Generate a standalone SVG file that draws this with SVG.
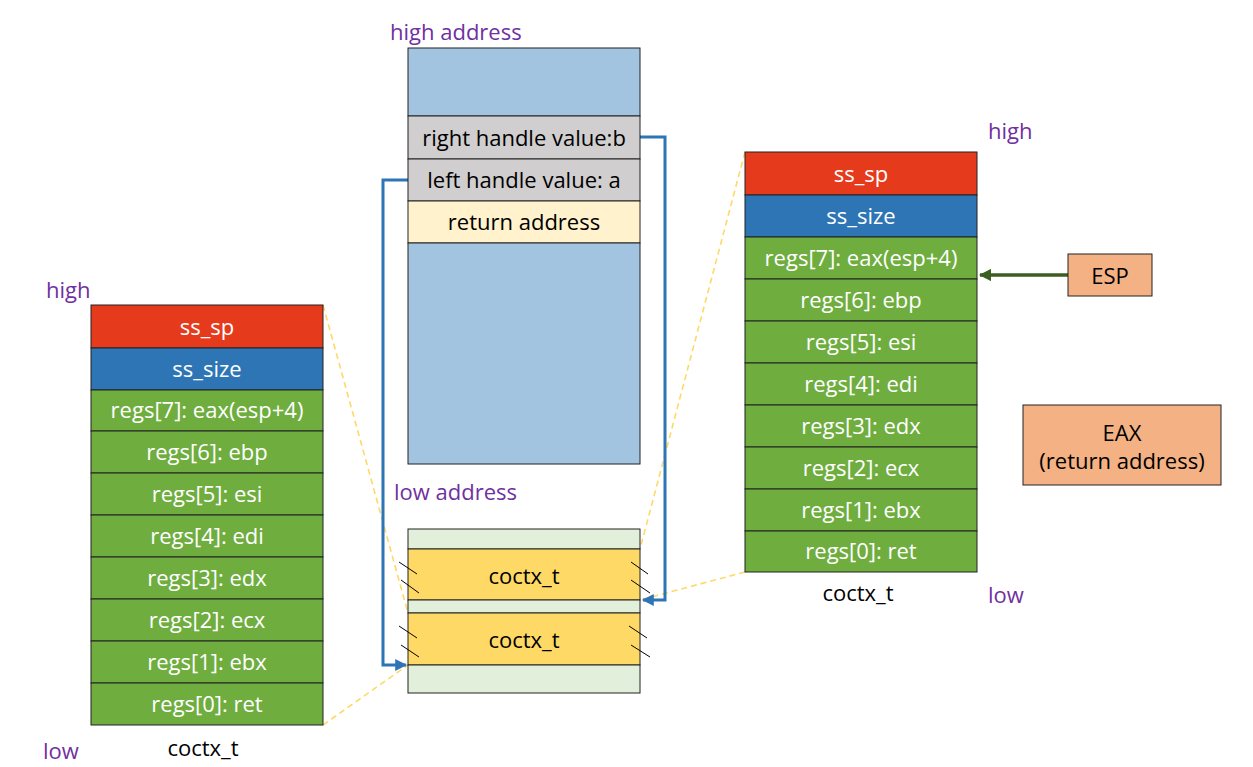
<svg xmlns="http://www.w3.org/2000/svg" width="1253" height="767" viewBox="0 0 1253 767">
<defs>
<style>
text{font-family:"Open Sans","Liberation Sans",sans-serif;font-size:22px;text-anchor:middle;dominant-baseline:central}
.w{fill:#fff}
.k{fill:#000}
.p{fill:#7030A0;text-anchor:start}
.c{stroke:#222;stroke-width:1}
.red{fill:#E63A1C}
.blu{fill:#2E75B6}
.grn{fill:#6FAD3F}
.dash{stroke:#FFD966;stroke-width:1.6;stroke-dasharray:6,4;fill:none}
.conn{stroke:#2E75B6;stroke-width:3;fill:none}
.hatch{stroke:#000;stroke-width:1}
</style>
<marker id="ab" viewBox="0 0 10 10" refX="9" refY="5" markerWidth="4" markerHeight="4" orient="auto"><path d="M0,0L10,5L0,10z" fill="#2E75B6"/></marker>
<marker id="ag" viewBox="0 0 10 10" refX="9" refY="5" markerWidth="3.5" markerHeight="3.5" orient="auto"><path d="M0,0L10,5L0,10z" fill="#3B5E22"/></marker>
</defs>
<rect width="1253" height="767" fill="#fff"/>

<g id="labels">
<text class="p" x="390" y="31">high address</text>
<text class="p" x="394" y="491">low address</text>
<text class="p" x="988" y="130">high</text>
<text class="p" x="988" y="594">low</text>
<text class="p" x="46" y="289">high</text>
<text class="p" x="43" y="750">low</text>
<text class="k" x="203" y="747">coctx_t</text>
<text class="k" x="858" y="592">coctx_t</text>
</g>

<g id="connectors">
<line class="dash" x1="323" y1="305" x2="408" y2="613"/>
<line class="dash" x1="323" y1="725" x2="408" y2="665"/>
<line class="dash" x1="745" y1="152" x2="640" y2="549"/>
<line class="dash" x1="745" y1="572" x2="640" y2="600"/>
<polyline class="conn" points="640,137 665,137 665,600 643,600" marker-end="url(#ab)"/>
<polyline class="conn" points="408,180 383,180 383,665 406,665" marker-end="url(#ab)"/>
<line x1="1068" y1="275" x2="980" y2="275" stroke="#3B5E22" stroke-width="3.5" marker-end="url(#ag)"/>
</g>

<g id="left-stack">
<rect class="c red" x="91" y="305" width="232" height="43"/>
<rect class="c blu" x="91" y="348" width="232" height="42"/>
<rect class="c grn" x="91" y="390" width="232" height="41"/>
<rect class="c grn" x="91" y="431" width="232" height="42"/>
<rect class="c grn" x="91" y="473" width="232" height="42"/>
<rect class="c grn" x="91" y="515" width="232" height="42"/>
<rect class="c grn" x="91" y="557" width="232" height="42"/>
<rect class="c grn" x="91" y="599" width="232" height="42"/>
<rect class="c grn" x="91" y="641" width="232" height="42"/>
<rect class="c grn" x="91" y="683" width="232" height="42"/>
<text class="w" x="207" y="326">ss_sp</text>
<text class="w" x="207" y="368">ss_size</text>
<text class="w" x="207" y="409">regs[7]: eax(esp+4)</text>
<text class="w" x="207" y="451">regs[6]: ebp</text>
<text class="w" x="207" y="493">regs[5]: esi</text>
<text class="w" x="207" y="535">regs[4]: edi</text>
<text class="w" x="207" y="577">regs[3]: edx</text>
<text class="w" x="207" y="619">regs[2]: ecx</text>
<text class="w" x="207" y="661">regs[1]: ebx</text>
<text class="w" x="207" y="703">regs[0]: ret</text>
</g>

<g id="right-stack">
<rect class="c red" x="745" y="152" width="232" height="43"/>
<rect class="c blu" x="745" y="195" width="232" height="42"/>
<rect class="c grn" x="745" y="237" width="232" height="42"/>
<rect class="c grn" x="745" y="279" width="232" height="42"/>
<rect class="c grn" x="745" y="321" width="232" height="42"/>
<rect class="c grn" x="745" y="363" width="232" height="42"/>
<rect class="c grn" x="745" y="405" width="232" height="42"/>
<rect class="c grn" x="745" y="447" width="232" height="42"/>
<rect class="c grn" x="745" y="489" width="232" height="42"/>
<rect class="c grn" x="745" y="531" width="232" height="41"/>
<text class="w" x="861" y="173">ss_sp</text>
<text class="w" x="861" y="215">ss_size</text>
<text class="w" x="861" y="257">regs[7]: eax(esp+4)</text>
<text class="w" x="861" y="299">regs[6]: ebp</text>
<text class="w" x="861" y="341">regs[5]: esi</text>
<text class="w" x="861" y="383">regs[4]: edi</text>
<text class="w" x="861" y="425">regs[3]: edx</text>
<text class="w" x="861" y="467">regs[2]: ecx</text>
<text class="w" x="861" y="509">regs[1]: ebx</text>
<text class="w" x="861" y="550">regs[0]: ret</text>
</g>

<g id="stack-memory">
<rect class="c" x="408" y="48" width="232" height="68" fill="#A2C4E1"/>
<rect class="c" x="408" y="116" width="232" height="43" fill="#D0CECE"/>
<rect class="c" x="408" y="159" width="232" height="42" fill="#D0CECE"/>
<rect class="c" x="408" y="201" width="232" height="42" fill="#FFF2CC"/>
<rect class="c" x="408" y="243" width="232" height="221" fill="#A2C4E1"/>
<text class="k" x="524" y="137">right handle value:b</text>
<text class="k" x="524" y="179">left handle value: a</text>
<text class="k" x="524" y="221">return address</text>
</g>

<g id="coctx-array">
<rect class="c" x="408" y="529" width="232" height="20" fill="#E2EFDA"/>
<rect class="c" x="408" y="549" width="232" height="51" fill="#FFD966"/>
<rect class="c" x="408" y="600" width="232" height="13" fill="#E2EFDA"/>
<rect class="c" x="408" y="613" width="232" height="52" fill="#FFD966"/>
<rect class="c" x="408" y="665" width="232" height="28" fill="#E2EFDA"/>
<text class="k" x="524" y="575">coctx_t</text>
<text class="k" x="524" y="639">coctx_t</text>
<line class="hatch" x1="399" y1="562" x2="417" y2="574"/>
<line class="hatch" x1="401" y1="580" x2="419" y2="593"/>
<line class="hatch" x1="631" y1="562" x2="648" y2="574"/>
<line class="hatch" x1="631" y1="580" x2="650" y2="593"/>
<line class="hatch" x1="399" y1="626" x2="417" y2="638"/>
<line class="hatch" x1="401" y1="645" x2="419" y2="657"/>
<line class="hatch" x1="629" y1="626" x2="647" y2="638"/>
<line class="hatch" x1="631" y1="645" x2="650" y2="657"/>
</g>

<g id="esp">
<rect class="c" x="1068" y="254" width="84" height="42" fill="#F4B183"/>
<text class="k" x="1110" y="275">ESP</text>
</g>

<g id="eax">
<rect class="c" x="1023" y="405" width="198" height="80" fill="#F4B183"/>
<text class="k" x="1122" y="432">EAX</text>
<text class="k" x="1122" y="460">(return address)</text>
</g>
</svg>
